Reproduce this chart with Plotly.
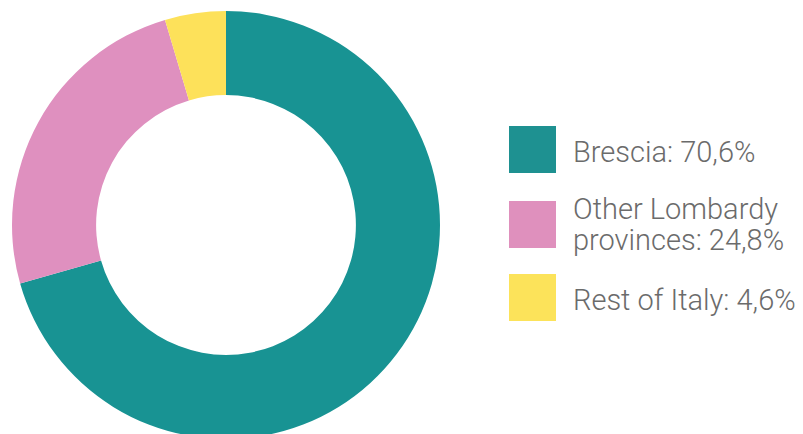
import plotly.graph_objects as go

labels = ["Brescia", "Other Lombardy provinces", "Rest of Italy"]
legend_lines = [["Brescia: 70,6%"], ["Other Lombardy", "provinces: 24,8%"], ["Rest of Italy: 4,6%"]]
values = [70.6, 24.8, 4.6]
pie_colors = ["#189393", "#df90bf", "#fde15a"]
legend_colors = ["#1e9191", "#df90bd", "#fce35a"]

W, H = 803, 440

fig = go.Figure()
fig.add_trace(go.Pie(
    labels=labels, values=values, hole=0.607, sort=False, direction="clockwise",
    rotation=0, marker=dict(colors=pie_colors, line=dict(width=0)),
    textinfo="none", showlegend=False,
    domain=dict(x=[12 / W, 440 / W], y=[1 - 439 / H, 1 - 11 / H]),
))

shapes = []
annotations = []
sq_tops = [126, 201, 274]
text_centers = [[152], [208.5, 239.5], [300]]
for i, lines in enumerate(legend_lines):
    t = sq_tops[i]
    shapes.append(dict(type="rect", xref="paper", yref="paper",
                       x0=509 / W, x1=556 / W, y0=1 - (t + 47) / H, y1=1 - t / H,
                       fillcolor=legend_colors[i], line=dict(width=0)))
    for j, line in enumerate(lines):
        annotations.append(dict(text=line, xref="paper", yref="paper",
                                x=571 / W, y=1 - text_centers[i][j] / H,
                                xanchor="left", yanchor="middle", showarrow=False,
                                font=dict(family="Roboto", size=29, color="#6b6b6b", weight=300)))

fig.update_layout(width=W, height=H, margin=dict(l=0, r=0, t=0, b=0),
                  paper_bgcolor="white", plot_bgcolor="white",
                  shapes=shapes, annotations=annotations)

fig.write_html("out.html", config={"displayModeBar": False},
               post_script="document.documentElement.style.overflow='hidden';document.body.style.overflow='hidden';document.body.style.margin='0';")
